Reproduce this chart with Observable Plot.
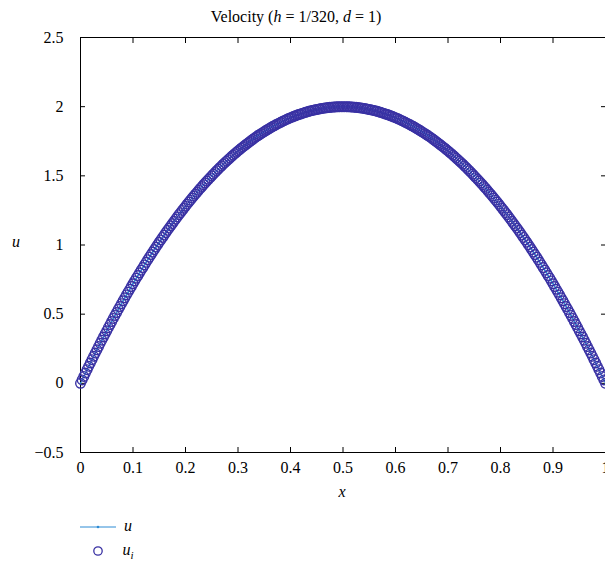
<!DOCTYPE html>
<html><head><meta charset="utf-8">
<script src="https://cdn.jsdelivr.net/npm/d3@7"></script>
<script src="https://cdn.jsdelivr.net/npm/@observablehq/plot@0.6"></script>
<style>
html,body{margin:0;padding:0;background:#fff;overflow:hidden;}
#chart svg text, #chart svg tspan{font-family:'Liberation Serif','DejaVu Serif',serif !important;}
</style></head><body><div id="chart"></div>
<script>
// grid nodes x (h = 1/320)
const xNodes = [
0,0.0031,0.0063,0.0094,0.0125,0.0156,0.0188,0.0219,0.025,0.0281,0.0313,0.0344,0.0375,0.0406,0.0438,0.0469,0.05,0.0531,0.0563,0.0594,0.0625,0.0656,0.0688,0.0719,0.075,0.0781,0.0813,0.0844,0.0875,0.0906,0.0938,0.0969,
0.1,0.1031,0.1063,0.1094,0.1125,0.1156,0.1188,0.1219,0.125,0.1281,0.1313,0.1344,0.1375,0.1406,0.1438,0.1469,0.15,0.1531,0.1563,0.1594,0.1625,0.1656,0.1688,0.1719,0.175,0.1781,0.1813,0.1844,0.1875,0.1906,0.1938,0.1969,
0.2,0.2031,0.2063,0.2094,0.2125,0.2156,0.2188,0.2219,0.225,0.2281,0.2313,0.2344,0.2375,0.2406,0.2438,0.2469,0.25,0.2531,0.2563,0.2594,0.2625,0.2656,0.2688,0.2719,0.275,0.2781,0.2813,0.2844,0.2875,0.2906,0.2938,0.2969,
0.3,0.3031,0.3063,0.3094,0.3125,0.3156,0.3188,0.3219,0.325,0.3281,0.3313,0.3344,0.3375,0.3406,0.3438,0.3469,0.35,0.3531,0.3563,0.3594,0.3625,0.3656,0.3688,0.3719,0.375,0.3781,0.3813,0.3844,0.3875,0.3906,0.3938,0.3969,
0.4,0.4031,0.4063,0.4094,0.4125,0.4156,0.4188,0.4219,0.425,0.4281,0.4313,0.4344,0.4375,0.4406,0.4438,0.4469,0.45,0.4531,0.4563,0.4594,0.4625,0.4656,0.4688,0.4719,0.475,0.4781,0.4813,0.4844,0.4875,0.4906,0.4938,0.4969,
0.5,0.5031,0.5063,0.5094,0.5125,0.5156,0.5188,0.5219,0.525,0.5281,0.5313,0.5344,0.5375,0.5406,0.5438,0.5469,0.55,0.5531,0.5563,0.5594,0.5625,0.5656,0.5688,0.5719,0.575,0.5781,0.5813,0.5844,0.5875,0.5906,0.5938,0.5969,
0.6,0.6031,0.6063,0.6094,0.6125,0.6156,0.6188,0.6219,0.625,0.6281,0.6313,0.6344,0.6375,0.6406,0.6438,0.6469,0.65,0.6531,0.6563,0.6594,0.6625,0.6656,0.6688,0.6719,0.675,0.6781,0.6813,0.6844,0.6875,0.6906,0.6938,0.6969,
0.7,0.7031,0.7063,0.7094,0.7125,0.7156,0.7188,0.7219,0.725,0.7281,0.7313,0.7344,0.7375,0.7406,0.7438,0.7469,0.75,0.7531,0.7563,0.7594,0.7625,0.7656,0.7688,0.7719,0.775,0.7781,0.7813,0.7844,0.7875,0.7906,0.7938,0.7969,
0.8,0.8031,0.8063,0.8094,0.8125,0.8156,0.8188,0.8219,0.825,0.8281,0.8313,0.8344,0.8375,0.8406,0.8438,0.8469,0.85,0.8531,0.8563,0.8594,0.8625,0.8656,0.8688,0.8719,0.875,0.8781,0.8813,0.8844,0.8875,0.8906,0.8938,0.8969,
0.9,0.9031,0.9063,0.9094,0.9125,0.9156,0.9188,0.9219,0.925,0.9281,0.9313,0.9344,0.9375,0.9406,0.9438,0.9469,0.95,0.9531,0.9563,0.9594,0.9625,0.9656,0.9688,0.9719,0.975,0.9781,0.9813,0.9844,0.9875,0.9906,0.9938,0.9969,
1
];
// velocity values
const uValues = [
0,0.025,0.050,0.074,0.099,0.123,0.147,0.171,0.195,0.219,
0.242,0.266,0.289,0.312,0.335,0.357,0.380,0.402,0.425,0.447,
0.469,0.491,0.512,0.534,0.555,0.576,0.597,0.618,0.639,0.659,
0.680,0.700,0.720,0.740,0.760,0.779,0.799,0.818,0.837,0.856,
0.875,0.894,0.912,0.931,0.949,0.967,0.985,1.002,1.020,1.037,
1.055,1.072,1.089,1.106,1.122,1.139,1.155,1.171,1.187,1.203,
1.219,1.234,1.250,1.265,1.280,1.295,1.310,1.324,1.339,1.353,
1.367,1.381,1.395,1.409,1.422,1.436,1.449,1.462,1.475,1.487,
1.500,1.512,1.525,1.537,1.549,1.561,1.572,1.584,1.595,1.606,
1.617,1.628,1.639,1.649,1.660,1.670,1.680,1.690,1.700,1.709,
1.719,1.728,1.737,1.746,1.755,1.764,1.772,1.781,1.789,1.797,
1.805,1.812,1.820,1.827,1.835,1.842,1.849,1.856,1.862,1.869,
1.875,1.881,1.887,1.893,1.899,1.904,1.910,1.915,1.920,1.925,
1.930,1.934,1.939,1.943,1.947,1.951,1.955,1.959,1.962,1.966,
1.969,1.972,1.975,1.977,1.980,1.982,1.985,1.987,1.989,1.991,
1.992,1.994,1.995,1.996,1.997,1.998,1.999,1.999,2.000,2.000,
2.000,
2.000,2.000,1.999,1.999,1.998,1.997,1.996,1.995,1.994,1.992,
1.991,1.989,1.987,1.985,1.982,1.980,1.977,1.975,1.972,1.969,
1.966,1.962,1.959,1.955,1.951,1.947,1.943,1.939,1.934,1.930,
1.925,1.920,1.915,1.910,1.904,1.899,1.893,1.887,1.881,1.875,
1.869,1.862,1.856,1.849,1.842,1.835,1.827,1.820,1.812,1.805,
1.797,1.789,1.781,1.772,1.764,1.755,1.746,1.737,1.728,1.719,
1.709,1.700,1.690,1.680,1.670,1.660,1.649,1.639,1.628,1.617,
1.606,1.595,1.584,1.572,1.561,1.549,1.537,1.525,1.512,1.500,
1.487,1.475,1.462,1.449,1.436,1.422,1.409,1.395,1.381,1.367,
1.353,1.339,1.324,1.310,1.295,1.280,1.265,1.250,1.234,1.219,
1.203,1.187,1.171,1.155,1.139,1.122,1.106,1.089,1.072,1.055,
1.037,1.020,1.002,0.985,0.967,0.949,0.931,0.912,0.894,0.875,
0.856,0.837,0.818,0.799,0.779,0.760,0.740,0.720,0.700,0.680,
0.659,0.639,0.618,0.597,0.576,0.555,0.534,0.512,0.491,0.469,
0.447,0.425,0.402,0.380,0.357,0.335,0.312,0.289,0.266,0.242,
0.219,0.195,0.171,0.147,0.123,0.099,0.074,0.050,0.025,0
];
const uNumeric = uValues;   // series "u"
const uInterp = uValues;    // series "u_i"

const xTicks = [0,0.1,0.2,0.3,0.4,0.5,0.6,0.7,0.8,0.9,1];
const xTickLabels = ["0","0.1","0.2","0.3","0.4","0.5","0.6","0.7","0.8","0.9","1"];
const yTicks = [-0.5,0,0.5,1,1.5,2,2.5];
const yTickLabels = ["\u22120.5","0","0.5","1","1.5","2","2.5"];

const lineColor = "#2d8bd4";
const circleColor = "#3931a3";

const lineData = xNodes.map((x, i) => ({x, u: uNumeric[i]}));
const circleData = xNodes.map((x, i) => ({x, u: uInterp[i]}));

const font = "'Liberation Serif', 'DejaVu Serif', serif";
const W = 605, H = 564;
const plot = Plot.plot({
  width: W, height: H,
  marginLeft: 80, marginRight: 0, marginTop: 37, marginBottom: 112,
  x: {domain: [0, 1]},
  y: {domain: [-0.5, 2.5]},
  style: {fontFamily: font, fontSize: "16px", color: "#000", background: "#fff", overflow: "visible"},
  marks: [
    Plot.frame({stroke: "#000", strokeWidth: 1}),
    Plot.axisX({anchor: "bottom", ticks: xTicks, tickSize: -5, tickPadding: 14, label: null,
      tickFormat: d => xTickLabels[xTicks.indexOf(d)], fontSize: 16, fontFamily: font}),
    Plot.axisX({anchor: "top", ticks: xTicks, tickSize: -5, label: null, tickFormat: () => ""}),
    Plot.axisY({anchor: "left", ticks: yTicks, tickSize: -5, tickPadding: 22, label: null,
      tickFormat: d => yTickLabels[yTicks.indexOf(d)], fontSize: 16, fontFamily: font}),
    Plot.axisY({anchor: "right", ticks: yTicks, tickSize: -5, label: null, tickFormat: () => ""}),
    Plot.line(lineData, {x: "x", y: "u", stroke: lineColor, strokeWidth: 1}),
    Plot.dot(lineData, {x: "x", y: "u", r: 1, fill: lineColor, stroke: null}),
    Plot.dot(circleData, {x: "x", y: "u", r: 4.8, stroke: circleColor, strokeWidth: 1.4, fill: "none"})
  ]
});
document.getElementById("chart").appendChild(plot);

const svg = d3.select(plot.tagName.toLowerCase() === "svg" ? plot : plot.querySelector("svg"));
// title
const t = svg.append("text").attr("x", 296).attr("y", 22).attr("text-anchor", "middle")
  .attr("font-family", font).attr("font-size", 16).attr("fill", "#000");
t.append("tspan").text("Velocity (");
t.append("tspan").attr("font-style", "italic").text("h");
t.append("tspan").text(" = 1/320, ");
t.append("tspan").attr("font-style", "italic").text("d");
t.append("tspan").text(" = 1)");
// axis labels
svg.append("text").attr("x", 16).attr("y", 247).attr("text-anchor", "middle")
  .attr("font-family", font).attr("font-size", 16).attr("font-style", "italic").attr("fill", "#000").text("u");
svg.append("text").attr("x", 342).attr("y", 497).attr("text-anchor", "middle")
  .attr("font-family", font).attr("font-size", 16).attr("font-style", "italic").attr("fill", "#000").text("x");
// legend
const lg = svg.append("g");
lg.append("line").attr("x1", 80).attr("x2", 116).attr("y1", 527).attr("y2", 527)
  .attr("stroke", lineColor).attr("stroke-width", 1);
lg.append("circle").attr("cx", 98).attr("cy", 527).attr("r", 1.3).attr("fill", lineColor);
lg.append("text").attr("x", 128).attr("y", 531).attr("font-family", font).attr("font-size", 16)
  .attr("font-style", "italic").attr("fill", "#000").text("u");
lg.append("circle").attr("cx", 98).attr("cy", 551).attr("r", 4.2).attr("fill", "none")
  .attr("stroke", circleColor).attr("stroke-width", 1.3);
const t2 = lg.append("text").attr("x", 128).attr("y", 555).attr("font-family", font).attr("font-size", 16)
  .attr("font-style", "italic").attr("fill", "#000");
t2.append("tspan").text("u");
t2.append("tspan").attr("font-size", 11).attr("dy", 4).text("i");
</script></body></html>
